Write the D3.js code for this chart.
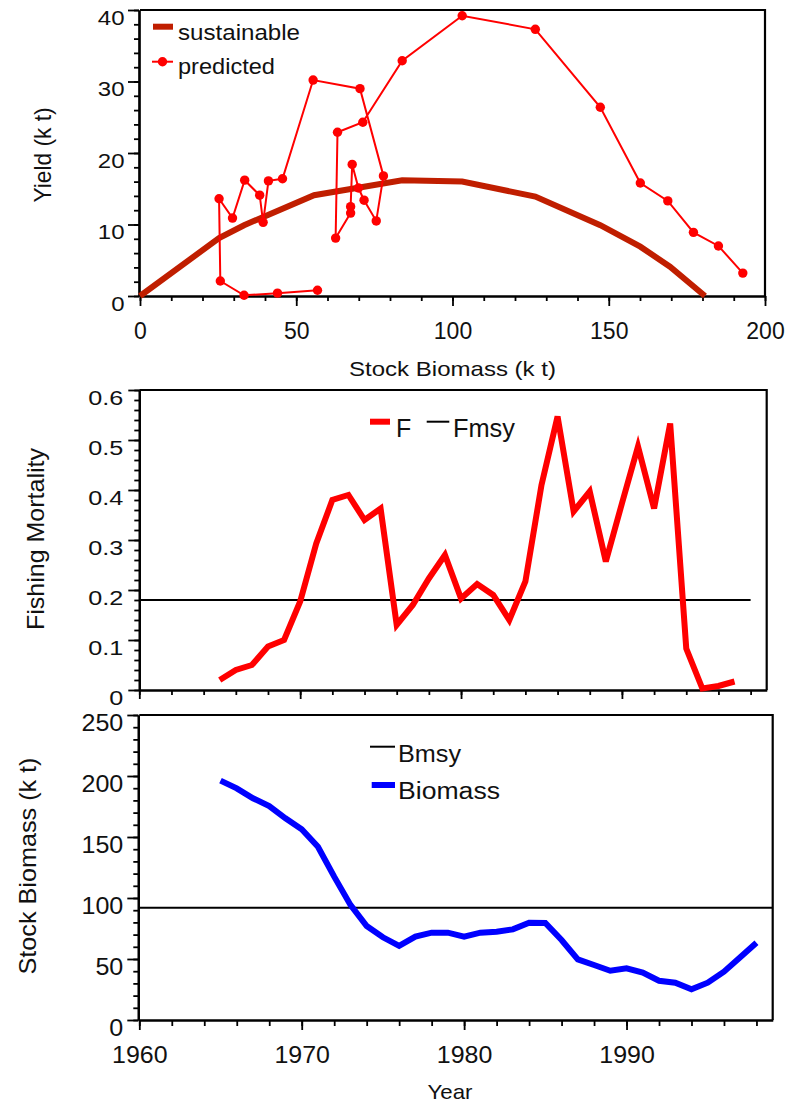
<!DOCTYPE html>
<html>
<head>
<meta charset="utf-8">
<script src="https://cdn.jsdelivr.net/npm/d3@7"></script>
<style>
body { margin: 0; background: #fff; }
svg { display: block; font-family: "Liberation Sans", Arial, sans-serif; }
</style>
</head>
<body>
<svg id="canvas" width="788" height="1107"></svg>
<script>
// ---- data ----
// top panel: yield vs stock biomass
var susB = [0, 25.3, 33.3, 55.7, 83.9, 103.1, 126.5, 147.3, 160.1, 169.6, 180.8]
var susY = [0, 8.1, 9.9, 14.1, 16.2, 16.0, 13.9, 9.9, 6.9, 4.1, 0]

// predicted, in path order
var predB = [192.9, 185.1, 177.1, 168.9, 160.1, 147.3, 126.5, 103.1, 83.9, 71.3, 63.2, 62.6, 67.4, 67.4, 67.9, 69.9, 71.7, 75.6, 77.9, 70.4, 55.4, 45.6, 41.1, 39.4, 38.3, 33.5, 29.6, 25.3, 25.7, 33.3, 44.0, 56.8]
var predY = [3.2, 7.0, 8.9, 13.3, 15.8, 26.4, 37.3, 39.2, 32.9, 24.3, 22.9, 8.1, 11.6, 12.5, 18.4, 15.1, 13.4, 10.5, 16.8, 29.0, 30.2, 16.4, 16.1, 10.3, 14.1, 16.2, 10.9, 13.6, 2.1, 0.1, 0.4, 0.8]

// middle panel: fishing mortality
var fYears = [1965, 1966, 1967, 1968, 1969, 1970, 1971, 1972, 1973, 1974, 1975, 1976, 1977, 1978, 1979, 1980, 1981, 1982, 1983, 1984, 1985, 1986, 1987, 1988, 1989, 1990, 1991, 1992, 1993, 1994, 1995, 1996, 1997]
var fVals = [0.02, 0.04, 0.05, 0.087, 0.10, 0.177, 0.293, 0.38, 0.39, 0.34, 0.363, 0.13, 0.17, 0.223, 0.27, 0.183, 0.212, 0.19, 0.14, 0.217, 0.41, 0.547, 0.357, 0.397, 0.257, 0.373, 0.487, 0.363, 0.533, 0.083, 0.003, 0.008, 0.017]
var fmsy = 0.18
var fmsyYears = [1960, 1998]

// bottom panel: stock biomass
var bYears = [1965, 1966, 1967, 1968, 1969, 1970, 1971, 1972, 1973, 1974, 1975, 1976, 1977, 1978, 1979, 1980, 1981, 1982, 1983, 1984, 1985, 1986, 1987, 1988, 1989, 1990, 1991, 1992, 1993, 1994, 1995, 1996, 1997, 1998]
var bVals = [196.2, 189.9, 181.7, 175.4, 165.3, 156.3, 142, 117.5, 94.3, 77, 67.8, 60.7, 68.3, 71.6, 71.6, 68.3, 71.6, 72.4, 74.3, 79.8, 79.5, 65.6, 49.7, 45.1, 40.4, 42.3, 38.8, 32.2, 30.6, 25.1, 30.6, 39.6, 51.4, 63.4]
var bmsy = 92
var bmsyYears = [1960, 1999]

// tick labels
var bioTicks = [0, 50, 100, 150, 200]
var yieldTicks = [0, 10, 20, 30, 40]
var fTicks = [0, 0.1, 0.2, 0.3, 0.4, 0.5, 0.6]
var stockTicks = [0, 50, 100, 150, 200, 250]
var yearTicks = [1960, 1970, 1980, 1990]

var svg = d3.select("#canvas")

// scales
var x1 = d3.scaleLinear().domain([0, 200]).range([140, 765])
var y1 = d3.scaleLinear().domain([0, 40]).range([296, 10])
var x2 = d3.scaleLinear().domain([1960, 1999]).range([139.3, 766.7])
var y2 = d3.scaleLinear().domain([0, 0.6]).range([690, 390])
var x3 = d3.scaleLinear().domain([1960, 1999]).range([139.3, 772.7])
var y3 = d3.scaleLinear().domain([0, 250]).range([1020, 715])

function styleAxis(g) {
    g.select(".domain").attr("stroke-width", 2.2)
    g.selectAll(".tick line").attr("stroke-width", 1.8)
}

// left axis with major labelled ticks + unlabelled minor ticks
function leftAxis(y, x, major, minor, fs, sx, dx, fmt) {
    var gm = svg.append("g").attr("transform", "translate(" + x + ",0)")
        .call(d3.axisLeft(y).tickValues(minor).tickSize(5).tickSizeOuter(0).tickFormat(""))
    styleAxis(gm)
    var g = svg.append("g").attr("transform", "translate(" + x + ",0)")
        .call(d3.axisLeft(y).tickValues(major).tickSize(11).tickSizeOuter(0).tickFormat(fmt))
    styleAxis(g)
    g.selectAll("text")
        .attr("x", 0).attr("dy", null).attr("fill", "#111")
        .style("font-size", fs + "px").style("font-family", null)
        .attr("transform", "translate(" + dx + "," + (7 + 0.36 * fs) + ") scale(" + sx + ",1)")
}

function bottomAxis(x, y, major, minor, fs, sx, off, majLen, minLen, labels) {
    var gm = svg.append("g").attr("transform", "translate(0," + y + ")")
        .call(d3.axisBottom(x).tickValues(minor).tickSize(minLen).tickSizeOuter(0).tickFormat(""))
    styleAxis(gm)
    var g = svg.append("g").attr("transform", "translate(0," + y + ")")
        .call(d3.axisBottom(x).tickValues(major).tickSize(majLen).tickSizeOuter(0)
            .tickFormat(labels ? d3.format("d") : ""))
    styleAxis(g)
    g.selectAll("text")
        .attr("y", 0).attr("dy", null).attr("fill", "#111")
        .style("font-size", fs + "px").style("font-family", null)
        .attr("transform", "translate(0," + off + ") scale(" + sx + ",1)")
}

// top and right frame lines
function frame(x, y) {
    var xr = x.range(), yr = y.range()
    svg.append("path")
        .attr("d", "M" + xr[0] + "," + yr[1] + "H" + xr[1] + "V" + yr[0])
        .attr("fill", "none").attr("stroke", "#000").attr("stroke-width", 2.2)
}

function text(str, x, y, fs, len, anchor) {
    var t = svg.append("text").attr("x", x).attr("y", y)
        .style("font-size", fs + "px").attr("fill", "#111")
        .attr("text-anchor", anchor || "start").text(str)
    if (len) t.attr("textLength", len).attr("lengthAdjust", "spacingAndGlyphs")
    return t
}

function vtext(str, cx, cy, fs, len) {
    svg.append("text")
        .attr("transform", "translate(" + cx + "," + cy + ") scale(1.17,1) rotate(-90)")
        .attr("text-anchor", "middle").attr("dy", "0.36em")
        .style("font-size", fs + "px").attr("fill", "#111")
        .attr("textLength", len).attr("lengthAdjust", "spacingAndGlyphs")
        .text(str)
}

// ================= top panel =================
frame(x1, y1)
bottomAxis(x1, 296, bioTicks, d3.range(0, 201, 10), 23, 1.0, 43, 10, 5, true)
leftAxis(y1, 139, yieldTicks, d3.range(0, 41, 2), 20, 1.2, -14.5, d3.format("d"))

var sus = susB.map(function(b, i) { return [b, susY[i]] })
svg.append("path").datum(sus)
    .attr("d", d3.line().x(function(d) { return x1(d[0]) }).y(function(d) { return y1(d[1]) }))
    .attr("fill", "none").attr("stroke", "#c01e00").attr("stroke-width", 6)

var pred = predB.map(function(b, i) { return [b, predY[i]] })
svg.append("path").datum(pred)
    .attr("d", d3.line().x(function(d) { return x1(d[0]) }).y(function(d) { return y1(d[1]) }))
    .attr("fill", "none").attr("stroke", "#ff0000").attr("stroke-width", 2)
svg.selectAll("circle.pred").data(pred).enter().append("circle")
    .attr("class", "pred")
    .attr("cx", function(d) { return x1(d[0]) })
    .attr("cy", function(d) { return y1(d[1]) })
    .attr("r", 4.7).attr("fill", "#ff0000")

// legend
svg.append("line").attr("x1", 153).attr("x2", 173).attr("y1", 26.7).attr("y2", 26.7)
    .attr("stroke", "#c01e00").attr("stroke-width", 6)
text("sustainable", 178, 40, 22, 122)
svg.append("line").attr("x1", 152).attr("x2", 173).attr("y1", 61.7).attr("y2", 61.7)
    .attr("stroke", "#ff0000").attr("stroke-width", 2)
svg.append("circle").attr("cx", 162.5).attr("cy", 61.7).attr("r", 4.7).attr("fill", "#ff0000")
text("predicted", 178, 74, 22, 97)

vtext("Yield (k t)", 42.7, 155, 20, 95)
text("Stock Biomass (k t)", 452.5, 376, 21, 207, "middle")

// ================= middle panel =================
frame(x2, y2)
bottomAxis(x2, 690, yearTicks, d3.range(1960, 1999, 2), 23, 1.0, 40, 9, 5, false)
leftAxis(y2, 139.3, fTicks, d3.range(0, 0.601, 0.02), 21, 1.2, -16,
    function(d) { return d === 0 ? "0" : d3.format(".1f")(d) })

svg.append("line")
    .attr("x1", x2(fmsyYears[0])).attr("x2", x2(fmsyYears[1]))
    .attr("y1", y2(fmsy)).attr("y2", y2(fmsy))
    .attr("stroke", "#000").attr("stroke-width", 2)

svg.append("path").datum(fYears.map(function(yr, i) { return [yr, fVals[i]] }))
    .attr("d", d3.line().x(function(d) { return x2(d[0]) }).y(function(d) { return y2(d[1]) }))
    .attr("fill", "none").attr("stroke", "#ff0000").attr("stroke-width", 6)

svg.append("line").attr("x1", 370).attr("x2", 390).attr("y1", 421.7).attr("y2", 421.7)
    .attr("stroke", "#ff0000").attr("stroke-width", 6)
text("F", 396, 437, 25)
svg.append("line").attr("x1", 426.7).attr("x2", 449.3).attr("y1", 421.7).attr("y2", 421.7)
    .attr("stroke", "#000").attr("stroke-width", 2)
text("Fmsy", 453, 437, 25, 62)

vtext("Fishing Mortality", 36, 539, 20, 182)

// ================= bottom panel =================
frame(x3, y3)
bottomAxis(x3, 1020, yearTicks, d3.range(1960, 1999, 2), 24, 1.04, 43, 10, 6, true)
leftAxis(y3, 138.3, stockTicks, d3.range(0, 251, 10), 23, 1.09, -15, d3.format("d"))

svg.append("line")
    .attr("x1", x3(bmsyYears[0])).attr("x2", x3(bmsyYears[1]))
    .attr("y1", y3(bmsy)).attr("y2", y3(bmsy))
    .attr("stroke", "#000").attr("stroke-width", 2)

svg.append("path").datum(bYears.map(function(yr, i) { return [yr, bVals[i]] }))
    .attr("d", d3.line().x(function(d) { return x3(d[0]) }).y(function(d) { return y3(d[1]) }))
    .attr("fill", "none").attr("stroke", "#0000ff").attr("stroke-width", 6)

svg.append("line").attr("x1", 370).attr("x2", 395).attr("y1", 746.7).attr("y2", 746.7)
    .attr("stroke", "#000").attr("stroke-width", 2)
text("Bmsy", 398, 761.7, 23, 63)
svg.append("line").attr("x1", 371.7).attr("x2", 395).attr("y1", 785).attr("y2", 785)
    .attr("stroke", "#0000ff").attr("stroke-width", 6)
text("Biomass", 398, 799.3, 23, 102)

vtext("Stock Biomass (k t)", 27, 866, 21, 217)
text("Year", 450, 1099, 21, 45, "middle")
</script>
</body>
</html>
